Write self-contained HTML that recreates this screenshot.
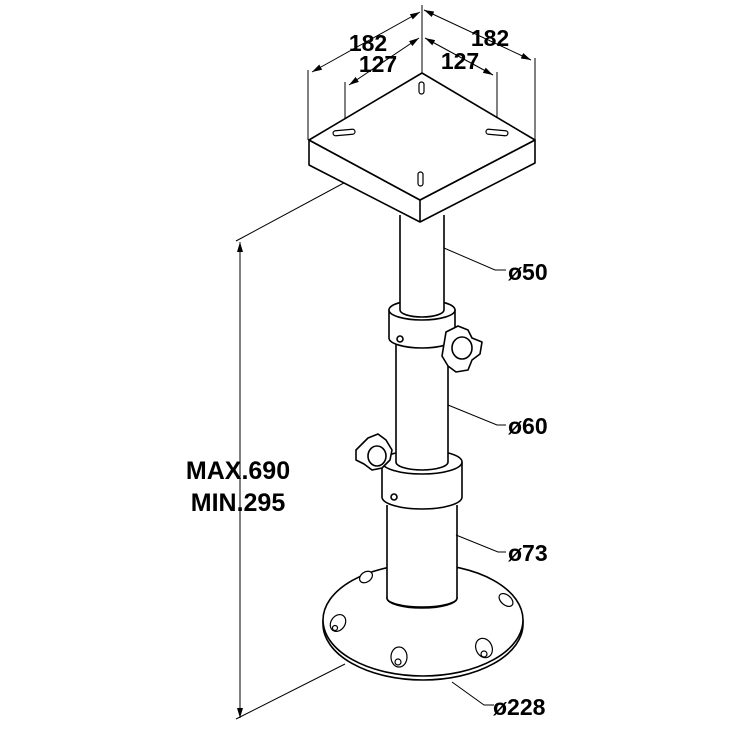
<!DOCTYPE html>
<html><head><meta charset="utf-8"><style>
html,body{margin:0;padding:0;background:#fff}
svg{display:block}
text{font-family:"Liberation Sans",sans-serif;font-weight:bold;fill:#000}
</style></head><body>
<svg width="737" height="737" viewBox="0 0 737 737" xmlns="http://www.w3.org/2000/svg">
<defs>
<marker id="a" markerWidth="10" markerHeight="6" refX="10" refY="3" orient="auto-start-reverse" markerUnits="userSpaceOnUse"><path d="M0,0 L10,3 L0,6z" fill="#000"/></marker>
</defs>
<g stroke="#000" fill="none" stroke-width="1">
<line x1="240" y1="242" x2="240" y2="718" marker-start="url(#a)" marker-end="url(#a)"/>
<line x1="236" y1="241" x2="368" y2="170"/>
<line x1="236" y1="719" x2="345" y2="664"/>
<line x1="308" y1="140" x2="308" y2="70"/>
<line x1="535" y1="140" x2="535" y2="58"/>
<line x1="422" y1="72" x2="422" y2="5"/>
<line x1="345" y1="130" x2="345" y2="82"/>
<line x1="497" y1="130" x2="497" y2="72"/>
<line x1="422" y1="90" x2="422" y2="35"/>
<line x1="312" y1="72" x2="420" y2="12" marker-start="url(#a)" marker-end="url(#a)"/>
<line x1="424" y1="10" x2="531" y2="60" marker-start="url(#a)" marker-end="url(#a)"/>
<line x1="349" y1="85" x2="419" y2="38" marker-start="url(#a)" marker-end="url(#a)"/>
<line x1="425" y1="38" x2="493" y2="75" marker-start="url(#a)" marker-end="url(#a)"/>
</g>
<g stroke="#000" stroke-width="1.6" fill="#fff" stroke-linejoin="round">
<path d="M323,620 L323,624 A100,56 0 0 0 523,624 L523,620"/>
<ellipse cx="423" cy="620" rx="100" ry="56"/>
<ellipse cx="422" cy="598" rx="35" ry="10"/>
<path d="M387,505 L387,598 A35,9 0 0 0 457,598 L457,505"/>
<path d="M382,462 L382,497 A40,12 0 0 0 462,497 L462,462"/>
<ellipse cx="422" cy="462" rx="40" ry="12"/>
<circle cx="394" cy="497" r="3"/>
<path d="M396,335 L396,462 A26,8 0 0 0 448,462 L448,335"/>
<path d="M368,438 l10,-4 l8,6 l6,10 l-2,10 l-8,8 l-10,2 l-8,-6 l-8,-4 l0,-10 l6,-6z"/>
<ellipse cx="377" cy="456" rx="9" ry="10"/>
<path d="M389,310 L389,338 A33,10 0 0 0 455,338 L455,310"/>
<ellipse cx="422" cy="310" rx="33" ry="10"/>
<circle cx="400" cy="339" r="3"/>
<path d="M400,215 L400,310 A22,7 0 0 0 444,310 L444,215"/>
<path d="M446,332 l12,-6 l10,4 l4,8 l10,4 l-2,12 l-8,6 l-4,10 l-12,2 l-8,-6 l-6,-10 l2,-12z"/>
<ellipse cx="462" cy="348" rx="10" ry="11"/>
<path d="M309,140 L309,165 L420,222 L535,163 L535,140 L420,200 Z"/>
<line x1="420" y1="200" x2="420" y2="222"/>
<path d="M309,140 L422,73 L535,140 L420,200 Z"/>
</g>
<g stroke="#000" stroke-width="1.2" fill="#fff">
<rect x="333" y="130" width="22" height="5" rx="2.5" transform="rotate(-5 344 132)"/>
<rect x="486" y="130" width="22" height="5" rx="2.5" transform="rotate(5 497 132)"/>
<rect x="419" y="82" width="5" height="12" rx="2.5"/>
<rect x="418" y="172" width="5" height="14" rx="2.5"/>
<ellipse cx="338" cy="623" rx="7" ry="9" transform="rotate(35 338 623)"/>
<circle cx="335" cy="628" r="2.5"/>
<ellipse cx="366" cy="577" rx="5" ry="7" transform="rotate(55 366 577)"/>
<ellipse cx="506" cy="600" rx="5" ry="8" transform="rotate(-50 506 600)"/>
<ellipse cx="399" cy="657" rx="8" ry="10"/>
<circle cx="398" cy="662" r="3"/>
<ellipse cx="484" cy="648" rx="8" ry="10" transform="rotate(-25 484 648)"/>
<circle cx="484" cy="654" r="3"/>
</g>
<g stroke="#000" fill="none" stroke-width="1">
<polyline points="444,248 495,270 506,270"/>
<polyline points="448,405 497,425 506,425"/>
<polyline points="456,535 498,552 506,552"/>
<polyline points="452,682 484,705 494,705"/>
</g>
<text x="508" y="280" font-size="23">ø50</text>
<text x="508" y="434" font-size="23">ø60</text>
<text x="508" y="561" font-size="23">ø73</text>
<text x="493" y="715" font-size="23">ø228</text>
<text x="238" y="479" font-size="25" text-anchor="middle">MAX.690</text>
<text x="238" y="511" font-size="25" text-anchor="middle">MIN.295</text>
<text x="368" y="51" font-size="23" text-anchor="middle">182</text>
<text x="378" y="72" font-size="23" text-anchor="middle">127</text>
<text x="490" y="46" font-size="23" text-anchor="middle">182</text>
<text x="460" y="69" font-size="23" text-anchor="middle">127</text>
</svg>
</body></html>
